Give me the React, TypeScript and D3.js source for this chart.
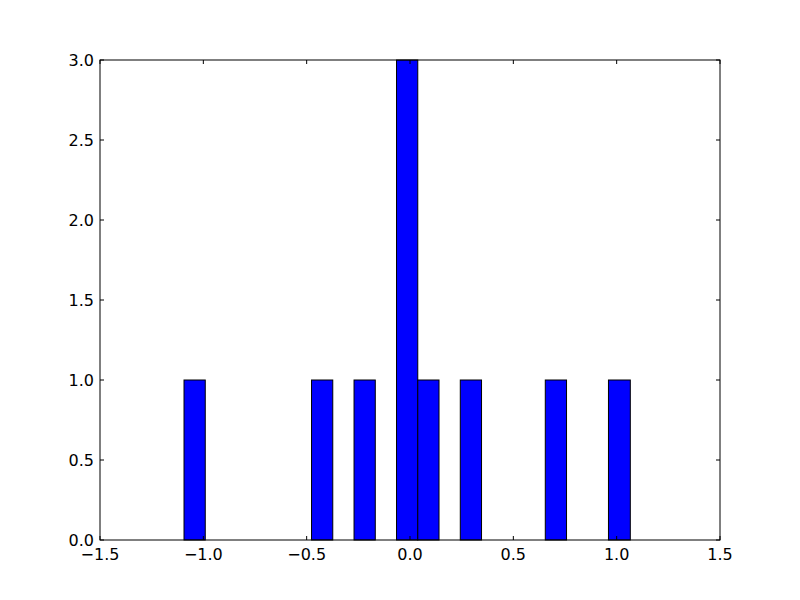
import React from "react";
import * as d3 from "d3";

const binLeft = [-1.0935, -0.4765, -0.2708, -0.0652, 0.0376, 0.2433, 0.6546, 0.9603];
const binRight = [-0.9907, -0.3737, -0.1680, 0.0376, 0.1404, 0.3461, 0.7574, 1.0660];
const counts = [1, 1, 1, 3, 1, 1, 1, 1];
const xTicks = [-1.5, -1.0, -0.5, 0.0, 0.5, 1.0, 1.5];
const yTicks = [0.0, 0.5, 1.0, 1.5, 2.0, 2.5, 3.0];

export default function App() {
  const W = 800, H = 600;
  const m = { left: 100, right: 80, top: 60, bottom: 60 };
  const x = d3.scaleLinear().domain([-1.5, 1.5]).range([m.left, W - m.right]);
  const y = d3.scaleLinear().domain([0, 3]).range([H - m.bottom, m.top]);
  const fmt = (v: number) => v.toFixed(1).replace("-", "\u2212");
  const font = "DejaVu Sans, sans-serif";
  const fs = 16;
  const tl = 4;
  return (
    <svg width={W} height={H} style={{ position: "absolute", left: 0, top: 0, background: "#fff" }}>
      <rect x={0} y={0} width={W} height={H} fill="#fff" />
      {counts.map((c, i) => (
        <rect
          key={i}
          x={x(binLeft[i])}
          y={y(c)}
          width={x(binRight[i]) - x(binLeft[i])}
          height={y(0) - y(c)}
          fill="#0000ff"
          stroke="#000"
          strokeWidth={1}
        />
      ))}
      {xTicks.map((t) => (
        <g key={"x" + t}>
          <line x1={x(t)} x2={x(t)} y1={y(0)} y2={y(0) - tl} stroke="#000" />
          <line x1={x(t)} x2={x(t)} y1={y(3)} y2={y(3) + tl} stroke="#000" />
          <text x={x(t)} y={y(0) + 20} textAnchor="middle" fontFamily={font} fontSize={fs}>{fmt(t)}</text>
        </g>
      ))}
      {yTicks.map((t) => (
        <g key={"y" + t}>
          <line x1={x(-1.5)} x2={x(-1.5) + tl} y1={y(t)} y2={y(t)} stroke="#000" />
          <line x1={x(1.5)} x2={x(1.5) - tl} y1={y(t)} y2={y(t)} stroke="#000" />
          <text x={x(-1.5) - 6} y={y(t) + 6} textAnchor="end" fontFamily={font} fontSize={fs}>{fmt(t)}</text>
        </g>
      ))}
      <rect x={m.left} y={m.top} width={W - m.left - m.right} height={H - m.top - m.bottom} fill="none" stroke="#000" strokeWidth={1} />
    </svg>
  );
}
